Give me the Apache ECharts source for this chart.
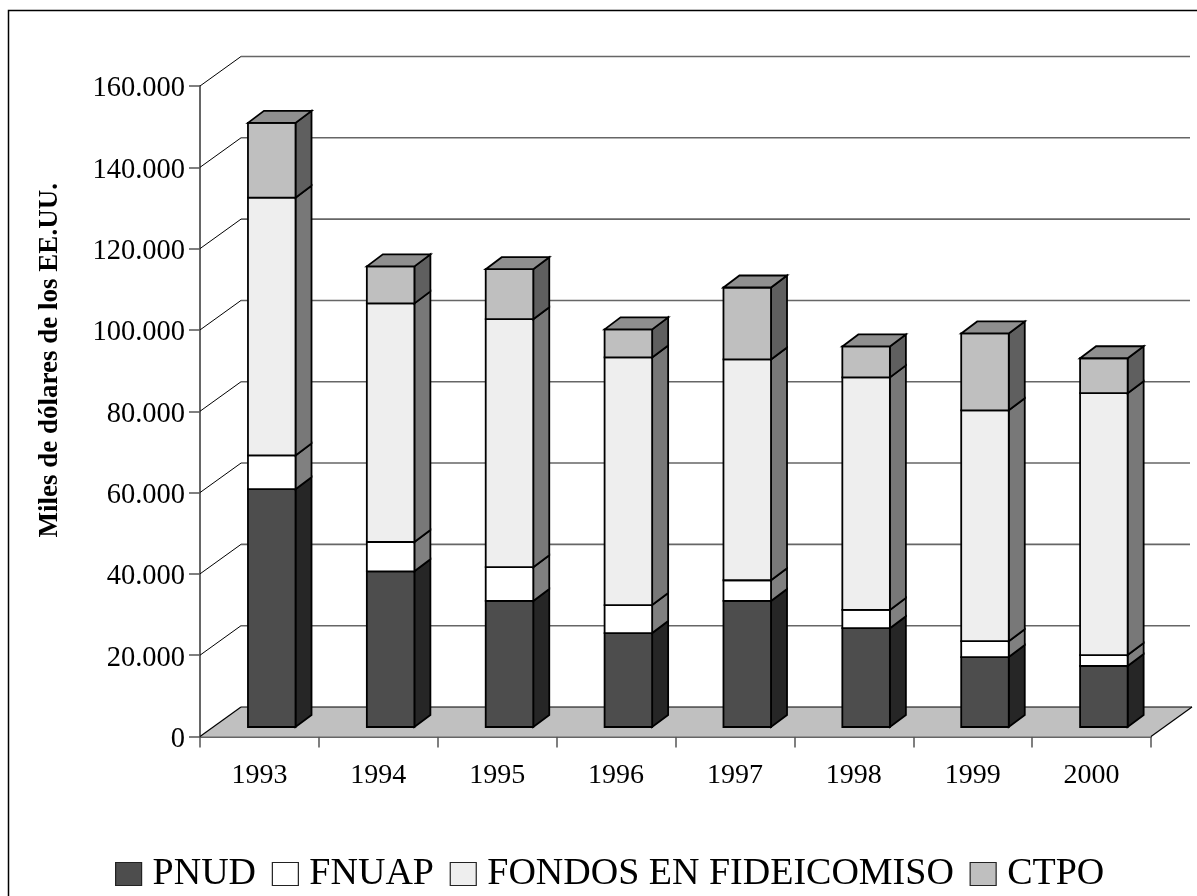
<!DOCTYPE html>
<html>
<head>
<meta charset="utf-8">
<style>html,body{margin:0;padding:0;background:#fff}#c{width:1197px;height:896px}</style>
<script src="https://cdn.jsdelivr.net/npm/echarts@6/dist/echarts.min.js"></script>
</head>
<body>
<div id="c"></div>
<script>
var categories = ['1993','1994','1995','1996','1997','1998','1999','2000'];
var yTicks = [0,20000,40000,60000,80000,100000,120000,140000,160000];
var PNUD    = [58500,38300,31000,23100,31000,24300,17200,15000];
var FNUAP   = [8300,7200,8300,6900,5100,4500,3900,2700];
var FONDOS  = [63400,58700,61000,60900,54300,57200,56800,64400];
var CTPO    = [18400,9100,12300,6900,17700,7600,18900,8600];
var seriesNames = ['PNUD','FNUAP','FONDOS EN FIDEICOMISO','CTPO'];
var seriesValues = [PNUD,FNUAP,FONDOS,CTPO];
var frontColors = ['#4d4d4d','#ffffff','#eeeeee','#bfbfbf'];
var sideColors  = ['#262626','#808080','#787878','#5f5f5f'];
var topColor = '#8f8f8f';

var DX = 16, DY = -12;          // bar depth
var WX = 41, WY = -29.5;        // wall depth
var SHIFT_X = 12, SHIFT_Y = -9.5;

function poly(points, fill, stroke, w) {
  return {type:'polygon', shape:{points:points},
    style:{fill:fill, stroke:stroke, lineWidth:w, lineJoin:'miter'}};
}

var running = categories.map(function(){return 0;});
var barSeries = seriesValues.map(function(vals, s){
  var data = vals.map(function(v,i){
    var row = [i, running[i], running[i]+v];
    running[i] += v;
    return row;
  });
  return {
    name: seriesNames[s], type:'custom', z:5, coordinateSystem:'cartesian2d',
    itemStyle:{color:frontColors[s], borderColor:'#000', borderWidth:1.8},
    encode:{x:0,y:[1,2]},
    data:data,
    renderItem:function(params, api){
      var a = api.coord([api.value(0), api.value(1)]);
      var b = api.coord([api.value(0), api.value(2)]);
      var w = api.size([1,0])[0]*0.4;
      var x0 = a[0]+SHIFT_X-w/2+0.3, x1 = x0+w;
      var yb = a[1]+SHIFT_Y, yt = b[1]+SHIFT_Y;
      var kids = [
        poly([[x1,yt],[x1+DX,yt+DY],[x1+DX,yb+DY],[x1,yb]], sideColors[s], '#000', 1.8),
        {type:'rect', shape:{x:x0,y:yt,width:w,height:yb-yt},
          style:{fill:frontColors[s], stroke:'#000', lineWidth:1.8}}
      ];
      if (s === seriesValues.length-1) {
        kids.push(poly([[x0,yt],[x0+DX,yt+DY],[x1+DX,yt+DY],[x1,yt]], topColor, '#000', 1.8));
      }
      return {type:'group', children:kids};
    }
  };
});

var wallSeries = {
  type:'custom', silent:true, z:1, coordinateSystem:'cartesian2d', legendHoverLink:false,
  data:yTicks.map(function(t){return [0,t];}),
  encode:{x:0,y:1},
  renderItem:function(params, api){
    var cs = params.coordSys;
    var p = api.coord([0, api.value(1)]);
    var y = p[1], xl = cs.x, xr = cs.x+cs.width;
    var kids = [];
    if (api.value(1) === 0) {
      kids.push(poly([[xl,y],[xl+WX,y+WY],[xr+WX,y+WY],[xr,y]], '#c0c0c0', 'transparent', 0));
      kids.push({type:'line',shape:{x1:xl,y1:y,x2:xl+WX,y2:y+WY},style:{stroke:'#000',lineWidth:1.2}});
      kids.push({type:'line',shape:{x1:xl+WX,y1:y+WY,x2:xr+WX,y2:y+WY},style:{stroke:'#000',lineWidth:1.2}});
      kids.push({type:'line',shape:{x1:xr,y1:y,x2:xr+WX,y2:y+WY},style:{stroke:'#000',lineWidth:1.2}});
    } else {
      kids.push({type:'line',shape:{x1:xl,y1:y,x2:xl+WX,y2:y+WY},style:{stroke:'#000',lineWidth:1}});
      kids.push({type:'line',shape:{x1:xl+WX,y1:y+WY,x2:xr+WX-2,y2:y+WY},style:{stroke:'#666',lineWidth:1.6}});
    }
    return {type:'group', children:kids};
  }
};

var font = '"Liberation Serif","Times New Roman",serif';
var chart = echarts.init(document.getElementById('c'), null, {renderer:'canvas'});
chart.setOption({
  animation:false,
  backgroundColor:'#fff',
  textStyle:{fontFamily:font, color:'#000'},
  grid:{left:200, top:86, width:951, height:650.5},
  xAxis:{type:'category', data:categories,
    axisLine:{show:true, lineStyle:{color:'#666', width:2}},
    axisTick:{show:true, length:11, lineStyle:{color:'#555', width:1.5}},
    axisLabel:{fontFamily:font, fontSize:28, color:'#000', margin:25, interval:0},
    splitLine:{show:false}
  },
  yAxis:{type:'value', min:0, max:160000, interval:20000,
    name:'Miles de dólares de los EE.UU.', nameLocation:'middle', nameRotate:90, nameGap:136,
    nameTextStyle:{fontFamily:font, fontSize:27, fontWeight:'bold', color:'#000', padding:[0,0,0,102]},
    axisLine:{show:true, lineStyle:{color:'#666', width:2}},
    axisTick:{show:true, length:11, lineStyle:{color:'#555', width:1.5}},
    axisLabel:{fontFamily:font, fontSize:28.5, color:'#000', margin:15,
      rich:{v:{fontFamily:font, fontSize:28.5, color:'#000', padding:[6,0,0,0]}},
      formatter:function(v){return '{v|'+String(v).replace(/(\d)(?=(\d{3})$)/,'$1.')+'}';}},
    splitLine:{show:false}
  },
  legend:{top:850, left:110, itemWidth:26, itemHeight:23, itemGap:15.7,
    icon:'rect',
    data:seriesNames.map(function(n,i){
      return {name:n, itemStyle:{color:frontColors[i], borderColor:'#222', borderWidth:1.2}};
    }),
    textStyle:{fontFamily:font, fontSize:38, color:'#000', padding:[0,0,0,6]}
  },
  graphic:[{type:'polyline', silent:true, z:0,
    shape:{points:[[8.5,896],[8.5,10.5],[1197,10.5]]},
    style:{stroke:'#000', lineWidth:1.5, fill:null}}],
  series:[wallSeries].concat(barSeries)
});
</script>
</body>
</html>
